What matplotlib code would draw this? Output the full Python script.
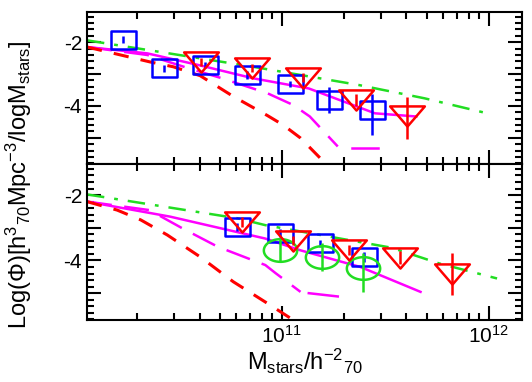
import numpy as np
import matplotlib
matplotlib.use('Agg')
import matplotlib.pyplot as plt
from matplotlib.path import Path
from matplotlib.ticker import MultipleLocator, FuncFormatter, LogLocator, NullFormatter

plt.rcParams['font.family'] = ['Liberation Sans', 'DejaVu Sans']
plt.rcParams['mathtext.fontset'] = 'custom'
plt.rcParams['mathtext.rm'] = 'Liberation Sans'
plt.rcParams['mathtext.it'] = 'Liberation Sans:italic'
plt.rcParams['mathtext.bf'] = 'Liberation Sans:bold'
plt.rcParams['axes.unicode_minus'] = False

# ---- top panel data (log10 of mass, log phi)
top_sq_x = [10.23, 10.43, 10.63, 10.83, 11.04, 11.23, 11.435]
top_sq_y = [-1.92, -2.82, -2.72, -3.03, -3.32, -3.81, -4.12]
top_sq_lo = [0.1, 0.12, 0.1, 0.12, 0.1, 0.4, 0.8]
top_sq_hi = [0.1, 0.12, 0.1, 0.12, 0.1, 0.4, 0.5]

top_tri_x = [10.61, 10.855, 11.10, 11.36, 11.605]
top_tri_y = [-2.62, -2.81, -3.11, -3.81, -4.31]
top_tri_lo = [0.12, 0.12, 0.15, 0.2, 0.73]
top_tri_hi = [0.12, 0.12, 0.15, 0.2, 0.6]

top_green_x = [10.058, 10.6, 10.86, 11.37, 11.69, 11.98]
top_green_y = [-1.94, -2.5, -2.77, -3.34, -3.76, -4.21]
top_mag_x = [10.058, 10.35, 10.6, 10.86, 11.13, 11.45, 11.65]
top_mag_y = [-2.15, -2.35, -2.72, -3.13, -3.45, -4.23, -4.33]
top_magd_x = [10.058, 10.35, 10.55, 10.71, 10.93, 11.055, 11.135, 11.27]
top_magd_y = [-2.15, -2.4, -2.82, -3.13, -3.6, -3.97, -4.33, -5.27]
top_magf_x = [11.337, 11.466]
top_magf_y = [-5.32, -5.32]
top_red_x = [10.058, 10.364, 10.475, 10.605, 10.765, 10.93, 11.007, 11.089, 11.195]
top_red_y = [-2.15, -2.62, -2.77, -3.05, -3.7, -4.3, -4.6, -5.0, -5.7]

# ---- bottom panel data
bot_sq_x = [10.785, 10.99, 11.185, 11.395]
bot_sq_y = [-2.97, -3.17, -3.48, -3.89]
bot_sq_err = [0.12, 0.12, 0.12, 0.15]

bot_tri_x = [10.807, 11.056, 11.322, 11.571, 11.821]
bot_tri_y = [-2.82, -3.39, -3.68, -3.92, -4.41]
bot_tri_lo = [0.15, 0.15, 0.15, 0.2, 0.65]
bot_tri_hi = [0.15, 0.15, 0.15, 0.2, 0.63]

bot_circ_x = [10.99, 11.193, 11.394]
bot_circ_y = [-3.68, -3.89, -4.24]
bot_circ_lo = [0.38, 0.43, 0.72]
bot_circ_hi = [0.38, 0.43, 0.46]

bot_green_x = [10.058, 10.785, 10.92, 11.53, 11.76, 12.04]
bot_green_y = [-1.98, -2.71, -2.92, -3.61, -4.09, -4.55]
bot_mag_x = [10.058, 10.46, 10.92, 11.09, 11.38, 11.67]
bot_mag_y = [-2.2, -2.66, -3.33, -3.69, -4.2, -4.96]
bot_magd_x = [10.058, 10.36, 10.52, 10.69, 10.92, 10.97, 11.09]
bot_magd_y = [-2.2, -2.46, -3.02, -3.58, -4.14, -4.39, -4.96]
bot_magf_x = [11.13, 11.27]
bot_magf_y = [-5.0, -5.1]
bot_red_x = [10.058, 10.204, 10.318, 10.446, 10.605, 10.765, 10.93, 11.05]
bot_red_y = [-2.2, -2.46, -2.76, -3.22, -3.89, -4.65, -5.31, -5.8]


def squashed(verts, sy=0.7):
    v = np.array(verts, float)
    v[:, 1] *= sy
    return Path(v, closed=True)

t = np.linspace(0, 2 * np.pi, 60)
ell = squashed(np.c_[np.cos(t), np.sin(t)], 0.68)
sq = squashed([[-1, -1], [1, -1], [1, 1], [-1, 1], [-1, -1]], 0.72)
tri = squashed([[0, -1], [-1, 1], [1, 1], [0, -1]], 0.58)

fig = plt.figure(figsize=(5.32, 3.82), dpi=100)
ax1 = fig.add_axes([0.1635, 0.5707, 0.8175, 0.398])
ax2 = fig.add_axes([0.1635, 0.1623, 0.8175, 0.4084], sharex=ax1)

def p(x):
    return 10 ** np.array(x)

lw = 1.8
green = '#22dd22'
for ax in (ax1, ax2):
    ax.set_xscale('log')
    ax.set_xlim(10 ** 10.058, 10 ** 12.16)
    ax.set_ylim(-5.82, -1.05)
    ax.yaxis.set_major_locator(MultipleLocator(1))
    ax.yaxis.set_minor_locator(MultipleLocator(0.2))
    ax.yaxis.set_major_formatter(FuncFormatter(lambda v, pos: '%d' % v if abs(v) % 2 < 0.01 else ''))
    ax.xaxis.set_minor_locator(LogLocator(base=10, subs=np.arange(2, 10)))
    ax.xaxis.set_minor_formatter(NullFormatter())
    ax.tick_params(which='both', direction='in', top=True, right=True, width=1.5, labelsize=15)
    ax.tick_params(which='major', length=10)
    ax.tick_params(which='minor', length=5)
    for s in ax.spines.values():
        s.set_linewidth(1.5)

# top panel curves
ax1.plot(p(top_green_x), top_green_y, color=green, lw=lw, dashes=(7, 4, 1.5, 4))
ax1.plot(p(top_mag_x), top_mag_y, color='magenta', lw=lw)
ax1.plot(p(top_magd_x), top_magd_y, color='magenta', lw=lw, dashes=(10, 5))
ax1.plot(p(top_magf_x), top_magf_y, color='magenta', lw=lw)
ax1.plot(p(top_red_x), top_red_y, color='red', lw=2.2, dashes=(5, 4))

ax1.errorbar(p(top_sq_x), top_sq_y, yerr=[top_sq_lo, top_sq_hi], fmt='none', ecolor='blue', elinewidth=lw)
ax1.plot(p(top_sq_x), top_sq_y, ls='none', marker=sq, ms=18, mfc='none', mec='blue', mew=lw)
ax1.errorbar(p(top_tri_x), top_tri_y, yerr=[top_tri_lo, top_tri_hi], fmt='none', ecolor='red', elinewidth=lw)
ax1.plot(p(top_tri_x), top_tri_y, ls='none', marker=tri, ms=25, mfc='none', mec='red', mew=lw)
ax1.tick_params(labelbottom=False)

# bottom panel curves
ax2.plot(p(bot_green_x), bot_green_y, color=green, lw=lw, dashes=(7, 4, 1.5, 4))
ax2.plot(p(bot_mag_x), bot_mag_y, color='magenta', lw=lw)
ax2.plot(p(bot_magd_x), bot_magd_y, color='magenta', lw=lw, dashes=(10, 5))
ax2.plot(p(bot_magf_x), bot_magf_y, color='magenta', lw=lw)
ax2.plot(p(bot_red_x), bot_red_y, color='red', lw=2.2, dashes=(5, 4))

ax2.errorbar(p(bot_sq_x), bot_sq_y, yerr=bot_sq_err, fmt='none', ecolor='blue', elinewidth=lw)
ax2.plot(p(bot_sq_x), bot_sq_y, ls='none', marker=sq, ms=18, mfc='none', mec='blue', mew=lw)
ax2.errorbar(p(bot_circ_x), bot_circ_y, yerr=[bot_circ_lo, bot_circ_hi], fmt='none', ecolor=green, elinewidth=lw)
ax2.plot(p(bot_circ_x), bot_circ_y, ls='none', marker=ell, ms=24, mfc='none', mec=green, mew=lw)
ax2.errorbar(p(bot_tri_x), bot_tri_y, yerr=[bot_tri_lo, bot_tri_hi], fmt='none', ecolor='red', elinewidth=lw)
ax2.plot(p(bot_tri_x), bot_tri_y, ls='none', marker=tri, ms=25, mfc='none', mec='red', mew=lw)

ax2.set_xlabel(r'M$_{\mathrm{stars}}$/h$^{-2}$$_{70}$', fontsize=17, labelpad=0)
fig.text(0.035, 0.516, r'Log($\Phi$)[h$^3$$_{70}$Mpc$^{-3}$/logM$_{\mathrm{stars}}$]',
         rotation=90, ha='center', va='center', fontsize=17)

fig.savefig('out.png', dpi=100)
